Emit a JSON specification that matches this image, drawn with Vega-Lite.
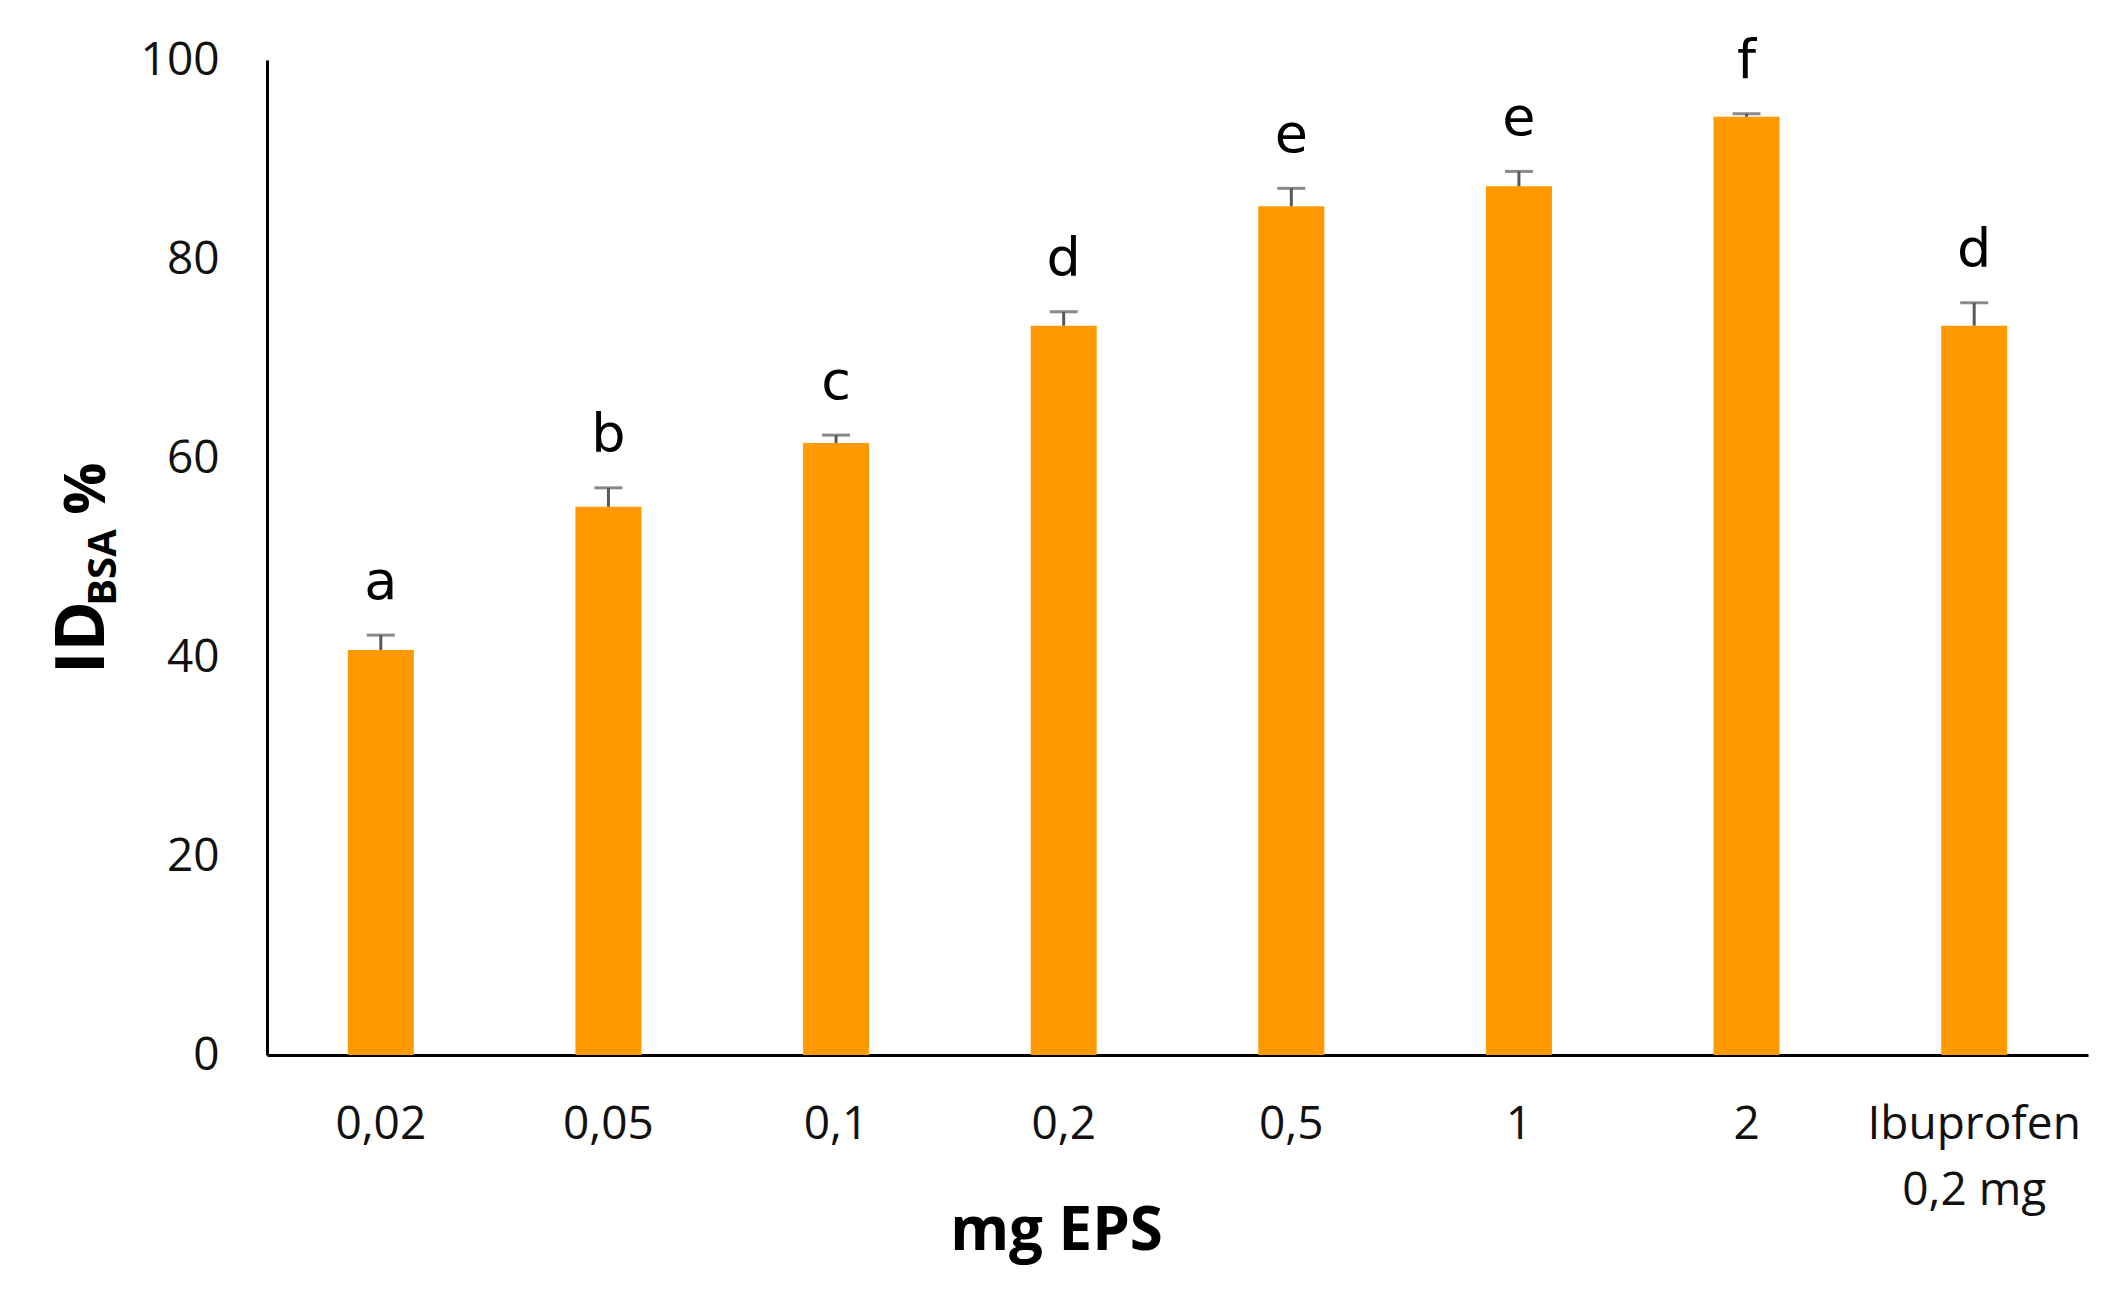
{
  "$schema": "https://vega.github.io/schema/vega-lite/v6.json",
  "width": 1821,
  "height": 995,
  "autosize": {"type": "none"},
  "padding": {"left": 267, "top": 60, "right": 29, "bottom": 240},
  "background": "white",
  "config": {
    "view": {"stroke": null},
    "axis": {"grid": false, "ticks": false, "tickSize": 0, "domainColor": "black", "domainWidth": 3, "labelColor": "#111111", "titleColor": "black"}
  },
  "data": {
    "values": [
      {"dose": "0,02", "value": 40.7, "upper": 42.2, "letter": "a"},
      {"dose": "0,05", "value": 55.1, "upper": 57.0, "letter": "b"},
      {"dose": "0,1", "value": 61.5, "upper": 62.3, "letter": "c"},
      {"dose": "0,2", "value": 73.3, "upper": 74.7, "letter": "d"},
      {"dose": "0,5", "value": 85.3, "upper": 87.1, "letter": "e"},
      {"dose": "1", "value": 87.3, "upper": 88.8, "letter": "e"},
      {"dose": "2", "value": 94.3, "upper": 94.6, "letter": "f"},
      {"dose": "Ibuprofen 0,2 mg", "value": 73.3, "upper": 75.6, "letter": "d"}
    ]
  },
  "encoding": {
    "x": {
      "field": "dose",
      "type": "nominal",
      "sort": null,
      "scale": {"paddingInner": 0.71, "paddingOuter": 0.355},
      "axis": {
        "labelAngle": 0,
        "labelFont": "Open Sans",
        "labelFontSize": 46,
        "labelPadding": 47,
        "labelLineHeight": 66,
        "labelLimit": 0,
        "labelExpr": "datum.label == 'Ibuprofen 0,2 mg' ? ['Ibuprofen', '0,2 mg'] : datum.label",
        "title": "mg EPS",
        "titleFont": "Open Sans",
        "titleFontWeight": "bold",
        "titleFontSize": 60,
        "titleX": 789,
        "titleY": 194,
        "titleAlign": "center",
        "titleBaseline": "alphabetic"
      }
    }
  },
  "layer": [
    {
      "mark": {"type": "bar", "color": "#FF9900"},
      "encoding": {
        "y": {
          "field": "value",
          "type": "quantitative",
          "scale": {"domain": [0, 100]},
          "axis": {
            "orient": "left",
            "values": [0, 20, 40, 60, 80, 100],
            "labelFont": "Open Sans",
            "labelFontSize": 46,
            "labelPadding": 48,
            "title": "ID",
            "titleFont": "Open Sans",
            "titleFontWeight": "bold",
            "titleFontSize": 68,
            "titleAngle": -90,
            "titleX": -164,
            "titleY": 577,
            "titleAlign": "center",
            "titleBaseline": "alphabetic"
          }
        }
      }
    },
    {
      "mark": {"type": "rule", "color": "#595959", "strokeWidth": 3},
      "encoding": {
        "y": {
          "field": "value",
          "type": "quantitative",
          "scale": {"domain": [0, 100]},
          "axis": {
            "orient": "left",
            "labels": false,
            "domain": false,
            "ticks": false,
            "title": "BSA",
            "titleFont": "Open Sans",
            "titleFontWeight": "bold",
            "titleFontSize": 40,
            "titleAngle": -90,
            "titleX": -152,
            "titleY": 507,
            "titleAlign": "center",
            "titleBaseline": "alphabetic"
          }
        },
        "y2": {"field": "upper"}
      }
    },
    {
      "mark": {"type": "tick", "color": "#595959", "thickness": 3, "size": 28},
      "encoding": {
        "y": {
          "field": "upper",
          "type": "quantitative",
          "scale": {"domain": [0, 100]},
          "axis": {
            "orient": "left",
            "labels": false,
            "domain": false,
            "ticks": false,
            "title": "%",
            "titleFont": "Open Sans",
            "titleFontWeight": "bold",
            "titleFontSize": 58,
            "titleAngle": -90,
            "titleX": -163,
            "titleY": 428,
            "titleAlign": "center",
            "titleBaseline": "alphabetic"
          }
        }
      }
    },
    {
      "mark": {"type": "text", "font": "DejaVu Sans", "fontSize": 54, "dy": -36, "baseline": "alphabetic", "color": "black"},
      "encoding": {
        "y": {"field": "upper", "type": "quantitative", "scale": {"domain": [0, 100]}, "axis": null},
        "text": {"field": "letter"}
      }
    }
  ],
  "resolve": {"scale": {"y": "independent"}}
}
